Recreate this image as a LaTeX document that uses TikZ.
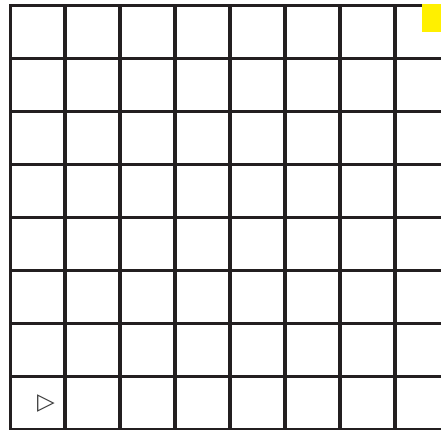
\documentclass[tikz,border=0pt]{standalone}
\usepackage{fontspec}
\newfontfamily\symfont{DejaVu Sans}
\definecolor{gridink}{RGB}{35,31,32}
\definecolor{marker}{RGB}{255,240,0}
\definecolor{tri}{RGB}{60,60,60}
\begin{document}
\begin{tikzpicture}[x=1pt,y=-1pt,
  vline/.style={draw=gridink,line width=4.2pt},
  hline/.style={draw=gridink,line width=3.2pt},
  border/.style={draw=gridink,line width=3pt},
  goal/.style={fill=marker,draw=none},
  agent/.style={inner sep=0pt,text=tri,font=\symfont\fontsize{23}{23}\selectfont}]
\useasboundingbox (0,0) rectangle (441,430);
\clip (0,0) rectangle (441,430);
% horizontal lines
\foreach \j in {1,...,8}{
  \draw[hline] (10.3,{5.7+52.95*\j}) -- (445,{5.7+52.95*\j});
}
% vertical lines
\foreach \i in {1,...,7}{
  \draw[vline] ({10.3+55*\i},5.7) -- ({10.3+55*\i},435);
}
% outer top and left borders
\draw[border] (445,5.7) -- (10.3,5.7) -- (10.3,435);
% goal marker
\fill[goal] (422,4) rectangle (441,32);
% agent
\node[agent] (agent) at (46,403.5) {▷};
\end{tikzpicture}
\end{document}
